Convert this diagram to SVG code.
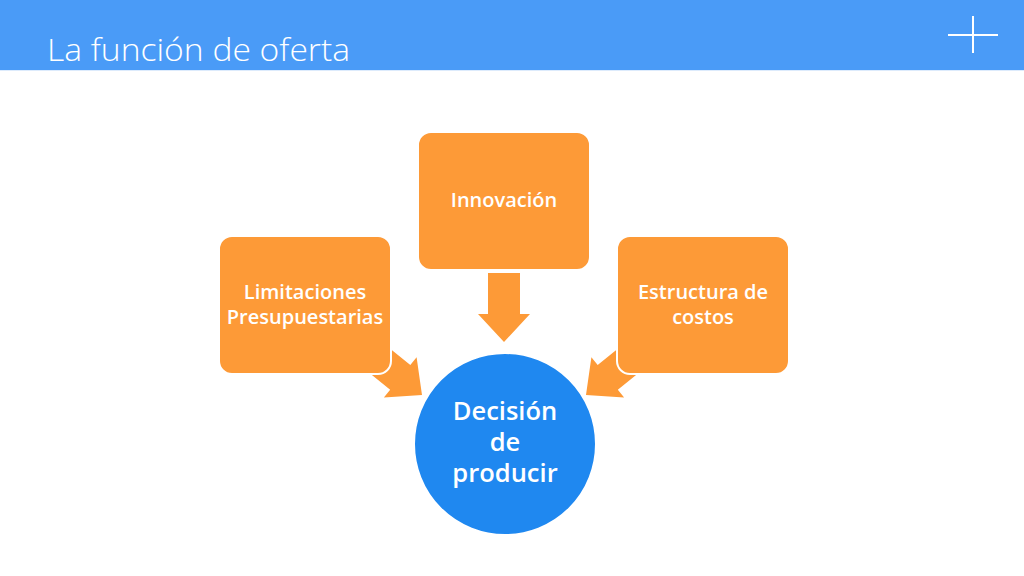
<svg xmlns="http://www.w3.org/2000/svg" width="1024" height="576" viewBox="0 0 1024 576">
<style>
.box{fill:#FD9A37;stroke:#FFFFFF;stroke-width:2}
.arr{fill:#FD9A37}
.bt{font-family:"Open Sans","Liberation Sans",sans-serif;font-weight:600;font-size:20px;fill:#FFFFFF;text-anchor:middle}
.ct{font-family:"Open Sans","Liberation Sans",sans-serif;font-weight:600;font-size:25.5px;fill:#FFFFFF;text-anchor:middle}
</style>
<defs>
<polygon id="blk" points="-69,-16 -28,-16 -28,-26 0,0 -28,26 -28,16 -69,16"/>
</defs>
<rect width="1024" height="576" fill="#FFFFFF"/>
<g id="header">
<rect x="0" y="0" width="1024" height="70" fill="#4A9BF7"/>
<line x1="0" y1="70.5" x2="1024" y2="70.5" stroke="#DDEBFC" stroke-width="1"/>
<text x="47" y="61" font-family="'Open Sans','Liberation Sans',sans-serif" font-weight="300" font-size="32" fill="#FFFFFF" textLength="303" lengthAdjust="spacingAndGlyphs">La función de oferta</text>
<line x1="948" y1="35" x2="998" y2="35" stroke="#FFFFFF" stroke-width="2"/>
<line x1="973" y1="16" x2="973" y2="53" stroke="#FFFFFF" stroke-width="2"/>
</g>
<g id="connectors">
<polygon class="arr" points="488,273 520,273 520,314 530,314 504,342 478,314 488,314"/>
<use href="#blk" class="arr" transform="translate(422,395) rotate(39)"/>
<use href="#blk" class="arr" transform="translate(586,395) rotate(141)"/>
</g>
<g id="innovacion">
<rect class="box" x="418" y="132" width="172" height="138" rx="13"/>
<text class="bt" x="504" y="207">Innovación</text>
</g>
<g id="limitaciones">
<rect class="box" x="219" y="236" width="172" height="138" rx="13"/>
<text class="bt" x="305" y="299">Limitaciones</text>
<text class="bt" x="305" y="324">Presupuestarias</text>
</g>
<g id="estructura">
<rect class="box" x="617" y="236" width="172" height="138" rx="13"/>
<text class="bt" x="703" y="299">Estructura de</text>
<text class="bt" x="703" y="324">costos</text>
</g>
<g id="decision">
<circle cx="505" cy="444" r="91" fill="#1F88F0" stroke="#FFFFFF" stroke-width="2"/>
<text class="ct" x="505" y="420">Decisión</text>
<text class="ct" x="505" y="451">de</text>
<text class="ct" x="505" y="482">producir</text>
</g>
</svg>
